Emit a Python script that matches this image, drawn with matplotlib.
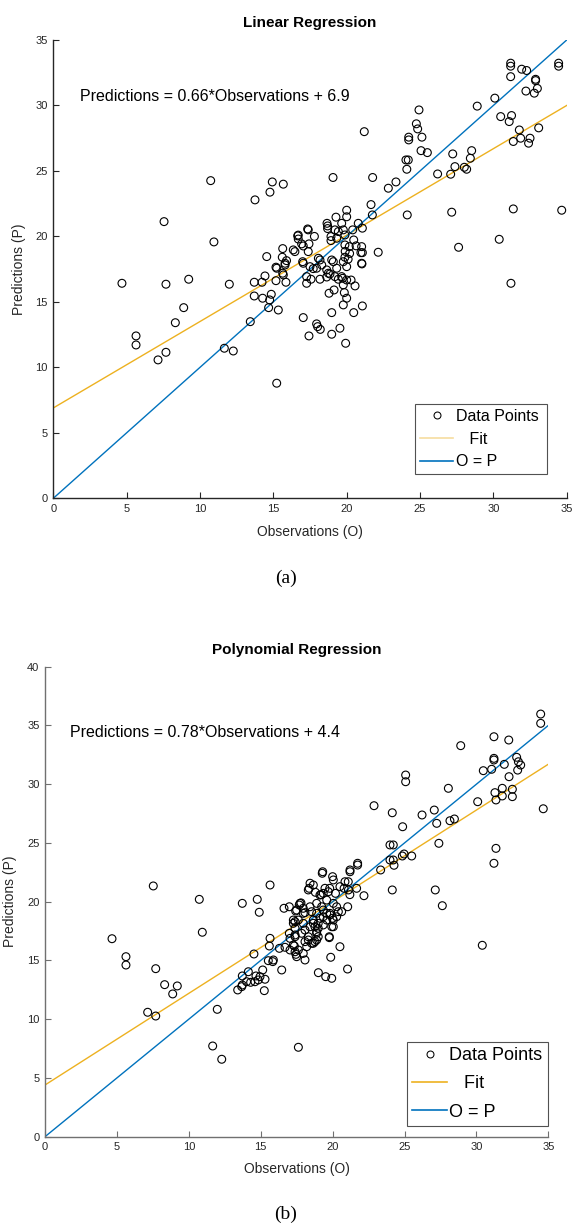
import matplotlib
matplotlib.use("Agg")
import matplotlib.pyplot as plt
from matplotlib.lines import Line2D
import numpy as np

plt.rcParams['font.family'] = ['Liberation Sans', 'DejaVu Sans']

# ---------------- Data: (a) Linear Regression ----------------
obs_a = [4.68, 5.64, 5.64, 7.14, 7.55, 7.68, 7.68, 8.32, 8.89, 9.23, 10.73, 10.95, 11.66, 12.0, 12.27,
         13.43, 13.7, 13.7, 13.75, 14.23, 14.27, 14.55, 14.68, 14.75, 14.77, 14.86, 14.93, 15.18, 15.18,
         15.23, 15.34, 15.64, 15.64, 15.68, 15.8, 15.86, 16.36, 16.66, 16.7, 17.04, 17.04, 17.04, 17.27,
         17.34, 17.43,
         14.43, 15.23, 15.61, 15.68, 15.9, 15.8, 16.47, 16.7, 16.93, 17.0, 17.38, 17.38, 17.43, 17.5,
         17.72, 17.8, 17.95, 18.07, 18.18, 18.3, 18.64, 18.64, 18.66, 18.7, 18.7, 18.86, 18.93, 18.93,
         18.98, 19.09, 19.2, 19.27, 19.32, 19.32, 19.43, 19.66, 19.66, 19.77, 19.77, 19.88, 19.88, 19.9,
         19.88, 20.0, 20.0, 20.1, 20.18, 20.2, 20.41, 20.48, 20.64, 20.79, 20.97, 21.02, 21.02, 21.07,
         17.27, 17.57, 18.18, 18.75, 19.2, 19.43, 20.0, 19.77, 20.3, 20.57, 18.8, 19.14, 19.84, 20.0,
         19.77, 18.98, 20.48, 21.07, 17.95, 18.02, 18.2, 18.98, 19.54, 19.93, 21.04, 19.72,
         19.07, 20.0, 21.07, 21.2, 21.66, 21.75, 21.77, 22.15, 22.84, 23.36, 24.04, 24.2, 24.1, 24.13,
         24.23, 24.23, 24.75, 24.84, 24.93, 25.07, 25.13, 25.5, 26.2, 27.09, 27.16, 27.23, 27.38, 27.63,
         28.02, 28.18, 28.43, 28.52, 28.9, 30.1, 30.4, 30.5, 31.08, 31.18, 31.18, 31.18, 31.2, 31.24,
         31.36, 31.36, 31.77, 31.86, 31.93, 32.22, 32.27, 32.4, 32.5, 32.79, 32.88, 32.88, 33.0, 33.09,
         34.45, 34.45, 34.66]
pred_a = [16.42, 12.4, 11.71, 10.57, 21.13, 16.35, 11.15, 13.41, 14.56, 16.73, 24.26, 19.58, 11.46, 16.35, 11.25,
          13.49, 16.5, 15.45, 22.79, 16.5, 15.28, 18.46, 14.56, 15.15, 23.38, 15.58, 24.16, 17.65, 16.62,
          8.79, 14.38, 19.07, 17.19, 23.99, 17.82, 16.5, 18.97, 20.04, 19.8, 13.8, 19.27, 17.95, 16.93,
          20.57, 12.4,
          16.98, 17.57, 18.41, 17.06, 18.15, 17.95, 18.84, 20.1, 19.43, 18.07, 20.5, 18.84, 19.43, 17.69,
          17.54, 20.0, 17.57, 18.33, 18.2, 17.82, 17.44, 16.9, 21.0, 20.8, 20.6, 17.13, 19.99, 19.68,
          18.2, 18.07, 20.5, 21.47, 19.86, 17.57, 20.37, 21.0, 16.93, 20.5, 18.07, 20.11, 19.35, 18.86,
          18.41, 21.5, 17.69, 18.26, 19.22, 18.7, 20.5, 19.73, 19.28, 21.0, 18.76, 19.22, 17.95, 20.63,
          16.42, 16.73, 16.73, 17.19, 16.93, 16.73, 16.67, 16.3, 16.67, 16.22, 15.66, 15.91, 15.71, 15.28,
          14.77, 14.18, 14.18, 14.69, 13.32, 13.11, 12.9, 12.53, 12.99, 11.84, 17.9, 16.8,
          24.5, 22.0, 18.76, 28.0, 22.43, 21.64, 24.5, 18.79, 23.68, 24.16, 25.84, 25.84, 25.13, 21.64,
          27.58, 27.37, 28.6, 28.21, 29.66, 26.55, 27.58, 26.4, 24.77, 24.75, 21.85, 26.3, 25.33, 19.17,
          25.28, 25.13, 25.97, 26.55, 29.95, 30.56, 19.78, 29.15, 28.77, 33.23, 33.0, 32.2, 16.42, 29.23,
          27.25, 22.1, 28.13, 27.5, 32.77, 31.1, 32.67, 27.12, 27.5, 30.94, 32.0, 31.9, 31.3, 28.29,
          33.23, 33.0, 22.0]

# ---------------- Data: (b) Polynomial Regression ----------------
obs_b = [4.66, 5.63, 5.63, 7.14, 7.53, 7.7, 7.7, 8.32, 8.88, 9.2, 10.73, 10.94, 11.66, 11.98, 12.29,
         13.4, 13.72, 13.72, 13.72, 14.14, 14.3, 14.53, 14.67, 14.76, 14.83, 14.9, 14.95, 15.14, 15.3,
         15.25, 15.53, 15.6, 15.65, 15.65, 15.84, 15.88, 16.3, 16.46, 16.62, 16.69, 16.99, 16.99, 17.04,
         17.27, 17.34, 17.39, 17.39, 17.43, 17.45, 17.62, 17.68, 13.68, 14.02, 14.6,
         17.73, 17.27, 17.96, 17.62, 18.08, 18.43, 18.66, 19.0, 19.0, 19.12, 18.89, 19.35, 19.59, 19.94,
         20.05, 17.85, 18.08, 18.31, 18.66, 18.89, 19.0, 17.27, 17.39, 17.62, 17.96, 18.08, 17.5,
         18.43, 18.66, 20.51, 18.37, 18.8, 19.2, 19.35, 19.59, 20.05, 19.8, 20.2, 20.8, 21.1, 21.2,
         18.89, 19.24, 19.35, 20.28, 18.43, 18.54, 18.89, 19.82, 20.0, 20.28, 20.4,
         19.28, 20.0, 20.05, 21.21, 20.86, 21.74, 21.74, 21.21, 21.67, 22.18, 21.05, 24.15, 27.14, 27.63,
         30.41, 21.04, 19.01, 19.52, 19.94, 19.87, 20.51, 19.77, 18.31, 17.8, 17.96, 17.5, 18.08, 19.31,
         19.47, 19.7, 19.12, 21.09, 20.63,
         18.2, 18.31, 18.54, 18.77, 18.89, 18.77, 19.35, 19.59, 19.82, 20.05, 19.77, 18.66, 17.96, 17.39,
         17.39, 17.04,
         22.88, 23.34, 23.99, 23.99, 24.15, 24.22, 24.22, 24.27, 24.85, 24.87, 24.97, 25.08, 25.08, 25.5,
         26.22, 27.07, 27.24, 27.39, 28.05, 28.16, 28.47, 28.91, 30.09, 30.48, 31.06, 31.22, 31.22, 31.22,
         31.22, 31.29, 31.36, 31.36, 31.8, 31.8, 31.94, 32.25, 32.27, 32.5, 32.5, 32.8, 32.87, 32.92,
         33.08, 34.47, 34.47, 34.65]
pred_b = [16.85, 15.32, 14.61, 10.59, 21.34, 14.3, 10.27, 12.94, 12.15, 12.83, 20.2, 17.4, 7.72, 10.84, 6.59,
          12.49, 12.91, 13.68, 19.86, 14.04, 13.14, 15.55, 13.68, 20.2, 13.34, 19.1, 13.62, 14.19, 13.4,
          12.43, 14.98, 16.23, 16.88, 21.42, 14.9, 15.04, 16.03, 14.19, 19.44, 16.12, 19.57, 17.31, 15.89,
          18.16, 16.23, 17.74, 17.02, 19.21, 15.52, 7.61, 19.72, 12.77, 13.19, 13.19,
          19.86, 18.44, 19.01, 18.44, 17.59, 17.87, 18.16, 18.16, 17.74, 18.59, 17.45, 18.02, 18.44, 17.87,
          18.44, 17.31, 16.6, 17.02, 16.46, 16.74, 17.02, 16.31, 15.74, 15.89, 15.6, 15.04, 15.32,
          21.57, 21.42, 21.28, 21.14, 20.8, 20.6, 20.71, 20.14, 19.86, 21.14, 20.71, 21.14, 21.0, 20.6,
          19.86, 19.57, 19.29, 19.57, 19.57, 19.15, 19.01, 19.01, 18.59, 18.72, 19.15,
          22.42, 22.13, 21.85, 22.55, 21.7, 23.27, 23.12, 22.7, 21.14, 20.51, 19.57, 21.0, 21.0, 19.66,
          16.29, 14.27, 13.96, 13.62, 13.48, 15.27, 16.17, 16.94, 21.0, 19.9, 19.44, 19.29, 19.07, 22.55,
          21.14, 20.85, 20.57, 21.7, 19.15,
          16.17, 16.74, 16.46, 16.6, 17.31, 17.87, 18.72, 19.01, 18.87, 17.87, 17.02, 18.44, 18.16, 18.3,
          17.17, 16.88,
          28.17, 22.7, 23.55, 24.83, 27.57, 24.83, 23.55, 23.1, 23.89, 26.38, 24.06, 30.78, 30.21, 23.89,
          27.38, 27.8, 26.67, 24.97, 29.65, 26.89, 27.04, 33.28, 28.51, 31.15, 31.27, 34.04, 32.2, 32.06,
          23.27, 29.28, 28.66, 24.54, 29.65, 29.0, 31.69, 33.76, 30.64, 29.57, 28.94, 32.29, 31.2, 31.91,
          31.63, 35.97, 35.18, 27.91]

# Fit coefficients and ranges
slope_a, icpt_a = 0.66, 6.9
slope_b, icpt_b = 0.78, 4.4
x_line = [0, 35]
x_ticks = [0, 5, 10, 15, 20, 25, 30, 35]
y_ticks_a = [0, 5, 10, 15, 20, 25, 30, 35]
y_ticks_b = [0, 5, 10, 15, 20, 25, 30, 35, 40]

BLUE = '#0072BD'
YELLOW = '#EDB120'

W, H = 572, 1229
fig = plt.figure(figsize=(W / 100, H / 100), dpi=100)


def panel(rect, obs, pred, slope, icpt, yticks, title, eq, eqpos, axcol, legfs, leg_rect,
          fitleg_col, labspace, hlen, caption, cap_y, xlabpad):
    ax = fig.add_axes(rect)
    ax.scatter(obs, pred, s=32, facecolors='none', edgecolors='black', linewidths=0.8, zorder=3)
    xl = np.array(x_line, dtype=float)
    ax.plot(xl, slope * xl + icpt, color=YELLOW, lw=1.0, zorder=2)
    ax.plot(xl, xl, color=BLUE, lw=1.0, zorder=2)
    ax.set_xlim(0, 35)
    ax.set_ylim(yticks[0], yticks[-1])
    ax.set_xticks(x_ticks)
    ax.set_yticks(yticks)
    for s in ['top', 'right']:
        ax.spines[s].set_visible(False)
    for s in ['left', 'bottom']:
        ax.spines[s].set_color(axcol)
        ax.spines[s].set_linewidth(1.0)
    ax.tick_params(direction='in', length=4, width=0.8, colors=axcol, labelsize=8, pad=4,
                   labelcolor='#262626')
    ax.set_xlabel('Observations (O)', fontsize=10, color='#262626', labelpad=xlabpad)
    ax.set_ylabel('Predictions (P)', fontsize=10, color='#262626', labelpad=7)
    ax.set_title(title, fontsize=11, fontweight='bold', pad=9)
    ax.text(eqpos[0], eqpos[1], eq, fontsize=11.5, ha='left', va='center')
    handles = [Line2D([], [], marker='o', ls='none', mfc='none', mec='black', ms=5, mew=0.75),
               Line2D([], [], color=fitleg_col, lw=1.2),
               Line2D([], [], color=BLUE, lw=1.2)]
    leg = ax.legend(handles, ['Data Points', '   Fit', 'O = P'], loc='lower left',
                    bbox_to_anchor=leg_rect, bbox_transform=fig.transFigure, mode='expand',
                    fontsize=legfs, frameon=True, fancybox=False, edgecolor='#262626',
                    handlelength=hlen, handletextpad=0.15, borderpad=0.3, labelspacing=labspace,
                    borderaxespad=0)
    leg.get_frame().set_linewidth(0.8)
    fig.text(0.5, cap_y, caption, ha='center', va='center', fontsize=14, family='Liberation Serif')
    return ax


# (a)
panel([53.3 / W, 1 - 498.3 / H, (566.7 - 53.3) / W, (498.3 - 40) / H],
      obs_a, pred_a, slope_a, icpt_a, y_ticks_a, 'Linear Regression',
      'Predictions = 0.66*Observations + 6.9', (1.8, 30.7), '#262626', 11.5,
      (415 / W, 1 - 474 / H, 132 / W, 70 / H), '#F6DDA0', 0.48, 2.1, '(a)', 1 - 578 / H, 8)

# (b)
panel([45 / W, 1 - 1136.7 / H, (548.3 - 45) / W, (1136.7 - 666.7) / H],
      obs_b, pred_b, slope_b, icpt_b, y_ticks_b, 'Polynomial Regression',
      'Predictions = 0.78*Observations + 4.4', (1.75, 34.4), '#707070', 13,
      (407 / W, 1 - 1126 / H, 141 / W, 85 / H), YELLOW, 0.62, 1.9, '(b)', 1 - 1214 / H, 7)

fig.savefig('out.png', dpi=100)
